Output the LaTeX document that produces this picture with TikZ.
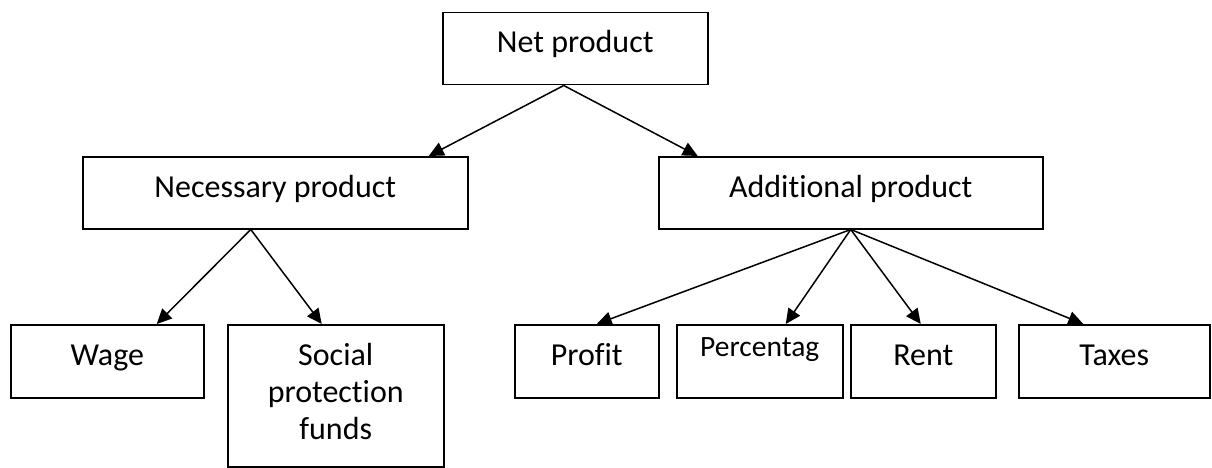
\documentclass[tikz,border=0pt]{standalone}
\usepackage{fontspec}
\setmainfont{Carlito}[Ligatures=NoCommon]
\usetikzlibrary{arrows.meta,calc}
\begin{document}
\begin{tikzpicture}[x=1pt,y=-1pt,
  box/.style={draw,line width=1.5pt,inner sep=0pt,anchor=north west},
  lbl/.style={anchor=base,inner sep=0pt,font=\fontsize{32}{37}\selectfont},
  arr/.style={line width=1.5pt,-{Triangle[length=15pt,width=14pt]}}]
\useasboundingbox (0,0) rectangle (1212,468);

% top level
\node[box,minimum width=265pt,minimum height=72pt] (net) at (442,12) {};
\node[lbl] (net-t) at ($(net.north)+(0,41)$) {Net product};

% second level
\node[box,minimum width=385pt,minimum height=72pt] (nec) at (82,156) {};
\node[lbl] (nec-t) at ($(nec.north)+(0,41)$) {Necessary product};
\node[box,minimum width=384pt,minimum height=72pt] (add) at (658,156) {};
\node[lbl] (add-t) at ($(add.north)+(0,41)$) {Additional product};

% third level
\node[box,minimum width=193pt,minimum height=73pt] (wage) at (10,324) {};
\node[lbl] (wage-t) at ($(wage.north)+(0,41)$) {Wage};
\node[box,minimum width=216pt,minimum height=142pt] (soc) at (227,324) {};
% base anchor of a multi-line node sits on its last line
\node[lbl,align=center] (soc-t) at ($(soc.north)+(0,115)$) {Social\\protection\\funds};
\node[box,minimum width=144pt,minimum height=73pt] (prof) at (514,324) {};
\node[lbl] (prof-t) at ($(prof.north)+(0,41)$) {Profit};
\node[box,minimum width=166pt,minimum height=73pt] (perc) at (676,324) {};
\node[lbl,font=\fontsize{29.5}{34}\selectfont] (perc-t) at ($(perc.north)+(0,32)$) {Percentag};
\node[box,minimum width=145pt,minimum height=73pt] (rent) at (850,324) {};
\node[lbl] (rent-t) at ($(rent.north)+(0,41)$) {Rent};
\node[box,minimum width=191pt,minimum height=73pt] (tax) at (1018,324) {};
\node[lbl] (tax-t) at ($(tax.north)+(0,41)$) {Taxes};

% connectors
\draw[arr] ([xshift=-11.5pt]net.south) -- ([xshift=153.5pt]nec.north);
\draw[arr] ([xshift=-11.5pt]net.south) -- ([xshift=-153pt]add.north);
\draw[arr] ([xshift=-24.5pt]nec.south) -- ([xshift=49.5pt]wage.north);
\draw[arr] ([xshift=-24.5pt]nec.south) -- ([xshift=-14pt]soc.north);
\draw[arr] (add.south) -- ([xshift=10pt]prof.north);
\draw[arr] (add.south) -- ([xshift=26pt]perc.north);
\draw[arr] (add.south) -- ([xshift=-2.5pt]rent.north);
\draw[arr] (add.south) -- ([xshift=-31pt]tax.north);
\end{tikzpicture}
\end{document}
